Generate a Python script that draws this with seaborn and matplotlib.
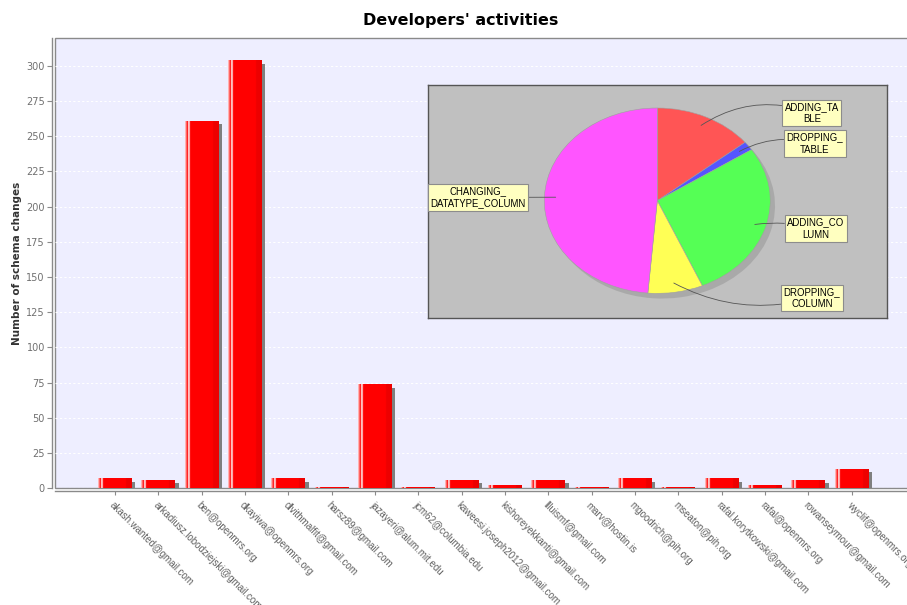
import numpy as np
import matplotlib
matplotlib.use("Agg")
import matplotlib.pyplot as plt
import seaborn as sns
from matplotlib import patheffects as pe

# ---------------- data ----------------
developers = [
    "akash.wanted@gmail.com", "arkadiusz.lobodziejski@gmail.com", "ben@openmrs.org",
    "dkayiwa@openmrs.org", "dlvithmalfit@gmail.com", "harsz89@gmail.com",
    "jazayeri@alum.mit.edu", "jcm62@columbia.edu", "kaweesi.joseph2012@gmail.com",
    "kishoreyekkanti@gmail.com", "llluismf@gmail.com", "marv@hostin.is",
    "mgoodrich@pih.org", "mseaton@pih.org", "rafal.korytkowski@gmail.com",
    "rafal@openmrs.org", "rowanseymour@gmail.com", "wyclif@openmrs.org",
]
changes = [7, 6, 261, 304, 7, 1, 74, 1, 6, 2, 6, 1, 7, 1, 7, 2, 6, 14]
y_ticks = list(range(0, 301, 25))

change_types = ["ADDING_TABLE", "DROPPING_TABLE", "ADDING_COLUMN",
                "DROPPING_COLUMN", "CHANGING_DATATYPE_COLUMN"]
type_labels = ["ADDING_TA\nBLE", "DROPPING_\nTABLE", "ADDING_CO\nLUMN",
               "DROPPING_\nCOLUMN", "CHANGING_\nDATATYPE_COLUMN"]
type_counts = [101, 11, 198, 56, 347]

# ---------------- style ----------------
sns.set_theme(style="white")
plt.rcParams["font.family"] = ["DejaVu Sans"]

W, H = 907, 605
fig = plt.figure(figsize=(W / 100, H / 100), dpi=100)
fig.patch.set_facecolor("white")

# main axes (pixel geometry)
left_px, right_px, top_px, bot_px = 55, 909, 38.3, 488.3
ax = fig.add_axes([left_px / W, 1 - bot_px / H, (right_px - left_px) / W, (bot_px - top_px) / H])
ax.set_facecolor("#eeeeff")
ax.patch.set_edgecolor("#8a8a8a")
ax.patch.set_linewidth(1.0)

sns.barplot(x=developers, y=changes, color="#ff0000", saturation=1, width=0.78,
            edgecolor="none", linewidth=0, ax=ax, zorder=3)

# spines first (set_position resets tick styling)
for s in ["top", "right"]:
    ax.spines[s].set_visible(False)
for s in ["left", "bottom"]:
    ax.spines[s].set_visible(True)
    ax.spines[s].set_color("#8a8a8a")
    ax.spines[s].set_linewidth(1.0)
    ax.spines[s].set_position(("outward", 2.3))

# gradient highlight + shadow on each bar
fr = np.linspace(0, 1, 120)
kx = [0.0, 0.035, 0.05, 0.075, 0.09, 0.13, 0.15, 0.17, 0.82, 0.84, 1.0]
rv = [1.0, 1.0, 1.0, 1.0, 1.0, 1.0, 1.0, 1.0, 1.0, 0.93, 0.93]
gv = [0.70, 0.70, 0.0, 0.0, 0.85, 0.85, 0.0, 0.0, 0.0, 0.0, 0.0]
grad = np.zeros((1, len(fr), 3))
grad[0, :, 0] = np.interp(fr, kx, rv)
grad[0, :, 1] = np.interp(fr, kx, gv)
grad[0, :, 2] = np.interp(fr, kx, gv)

for p in list(ax.patches):
    p.set_path_effects([pe.SimplePatchShadow(offset=(2.5, -2.5), shadow_rgbFace="#7f7f7f", alpha=1.0),
                        pe.Normal()])
    x0, y0 = p.get_x(), p.get_y()
    w, h = p.get_width(), p.get_height()
    im = ax.imshow(grad, extent=[x0, x0 + w, y0, y0 + h], aspect="auto",
                   interpolation="bilinear", zorder=3.5)
    im.set_clip_path(p)

n = len(developers)
spacing = 43.33
first_tick_px = 115
ax.set_xlim((left_px - first_tick_px) / spacing, (right_px - first_tick_px) / spacing)
ax.set_ylim(0, (bot_px - top_px) / ((bot_px - 65.7) / 300))
ax.set_aspect("auto")

ax.set_yticks(y_ticks)
ax.set_yticklabels([str(v) for v in y_ticks], fontsize=7, color="#707070")
ax.set_xticks(range(n))
ax.set_xticklabels(developers, rotation=-45, ha="left", va="top",
                   rotation_mode="anchor", fontsize=7,
                   family=["Liberation Sans", "DejaVu Sans"], color="#606060")
ax.tick_params(axis="y", left=True, length=3.5, width=0.8, color="#8a8a8a", pad=1.5)
ax.tick_params(axis="x", bottom=True, length=3, width=0.8, color="#8a8a8a", pad=3)

ax.yaxis.grid(True, color="white", linestyle=(0, (2, 2)), linewidth=0.8, zorder=0)
ax.xaxis.grid(False)
ax.set_axisbelow(True)

ax.set_xlabel("")
ax.set_ylabel("Number of schema changes", fontsize=7.5, fontweight="bold", color="#333333")
ax.yaxis.set_label_coords((22 - left_px) / (right_px - left_px), 0.5)

fig.text(461 / W, 1 - 20 / H, "Developers' activities", ha="center", va="center",
         fontsize=11.5, fontweight="bold", color="black")

# ---------------- pie inset ----------------
bl, br, bt, bb = 428.3, 886.7, 85.0, 318.3
ax2 = fig.add_axes([bl / W, 1 - bb / H, (br - bl) / W, (bb - bt) / H])
pie_colors = ["#ff5555", "#5555ff", "#55ff55", "#ffff55", "#ff55ff"]
wedges, _ = ax2.pie(type_counts, colors=pie_colors, startangle=90, counterclock=False,
                    radius=1, wedgeprops=dict(edgecolor="#a0a0a0", linewidth=0.4),
                    shadow=dict(ox=0.03, oy=-0.04, facecolor="#808080",
                                edgecolor="none", alpha=0.35))
ax2.set_frame_on(True)
ax2.set_facecolor("#c0c0c0")
for s in ax2.spines.values():
    s.set_visible(True)
    s.set_color("#555555")
    s.set_linewidth(1.0)
cx_px, cy_px, rx_px, ry_px = 657.3, 200.7, 113.0, 92.7
ax2.set_xlim((bl - cx_px) / rx_px, (br - cx_px) / rx_px)
ax2.set_ylim((cy_px - bb) / ry_px, (cy_px - bt) / ry_px)
ax2.set_aspect("auto")
ax2.set_xticks([])
ax2.set_yticks([])

label_pos = [(1.368, 0.946), (1.394, 0.617), (1.403, -0.300), (1.368, -1.050), (-1.588, 0.035)]
label_rad = [0.25, 0.2, 0.1, -0.2, 0.0]
for wdg, lab, pos, rad in zip(wedges, type_labels, label_pos, label_rad):
    mid = np.deg2rad((wdg.theta1 + wdg.theta2) / 2)
    anchor = (0.9 * np.cos(mid), 0.9 * np.sin(mid))
    ax2.annotate(lab, xy=anchor, xytext=pos, ha="center", va="center",
                 multialignment="center", fontsize=6.9, family=["Liberation Sans", "DejaVu Sans"],
                 color="black", linespacing=1.25,
                 bbox=dict(boxstyle="square,pad=0.25", fc="#ffffc0", ec="#8c8c8c", lw=0.8),
                 arrowprops=dict(arrowstyle="-", color="#555555", lw=0.6,
                                 connectionstyle=f"arc3,rad={rad}", shrinkA=0, shrinkB=0))

fig.savefig("out.png", dpi=100, facecolor="white")
